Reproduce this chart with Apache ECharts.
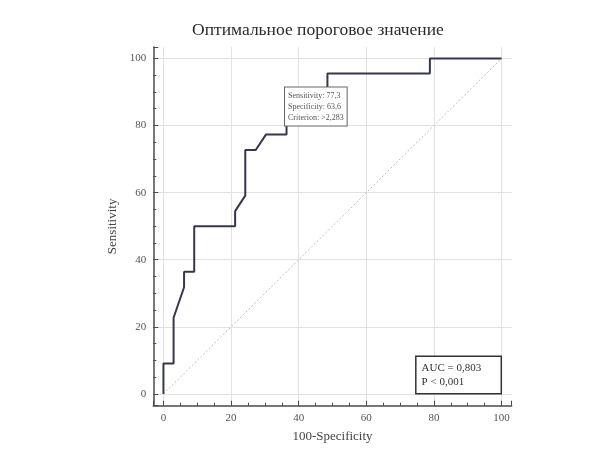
<!DOCTYPE html>
<html>
<head>
<meta charset="utf-8">
<script src="https://cdn.jsdelivr.net/npm/echarts@6/dist/echarts.min.js"></script>
<style>
	html, body { margin: 0; padding: 0; background: #fff; }
	#chart { width: 603px; height: 458px; }
</style>
</head>
<body>
<div id="chart"></div>
<script>
// ROC curve (100-Specificity, Sensitivity)
const rocX = [ 0, 0, 3.0, 3.0, 6.1, 6.1, 9.1, 9.1, 21.2, 21.2, 24.2, 24.2, 27.3, 30.3, 36.4, 36.4, 48.5, 48.5, 78.8, 78.8, 100 ];
const rocY = [ 0, 9.1, 9.1, 22.7, 31.8, 36.4, 36.4, 50, 50, 54.5, 59.1, 72.7, 72.7, 77.3, 77.3, 86.4, 86.4, 95.5, 95.5, 100, 100 ];
const diagonal = [ [ 0, 0 ], [ 100, 100 ] ];
const cutPoint = [ 36.4, 77.3 ];
const cutLines = [ 'Sensitivity: 77,3', 'Specificity: 63,6', 'Criterion: >2,283' ];
const statLines = [ 'AUC = 0,803', 'P < 0,001' ];

const serif = '"Liberation Serif", "DejaVu Serif", serif';
const chart = echarts.init( document.getElementById( 'chart' ), null, { renderer: 'canvas' } );

const axisCommon = {
	type: 'value',
	splitNumber: 5,
	nameLocation: 'middle',
	nameTextStyle: { fontFamily: serif, fontSize: 13, color: '#444' },
	axisLine: { show: true, onZero: false, lineStyle: { color: '#4a4a4a', width: 1.5 } },
	axisTick: { show: true, inside: true, length: 5, lineStyle: { color: '#4a4a4a' } },
	minorTick: { show: true, splitNumber: 4, length: 3, lineStyle: { color: '#4a4a4a' } },
	axisLabel: {
		fontFamily: serif,
		fontSize: 11,
		color: '#555',
		margin: 7,
		formatter: ( v ) => ( v % 20 === 0 ? String( v ) : '' )
	},
	splitLine: { show: true, showMinLine: false, showMaxLine: false, lineStyle: { color: '#e2e2e2', width: 1 } }
};

chart.setOption( {
	animation: false,
	title: {
		text: 'Оптимальное пороговое значение',
		left: 187,
		top: 16,
		textStyle: { fontFamily: serif, fontSize: 17.5, fontWeight: 'normal', color: '#2a2a2a' }
	},
	grid: { left: 153.3, right: 91.3, top: 47, bottom: 52.3, containLabel: false },
	xAxis: Object.assign( {}, axisCommon, {
		min: -3,
		max: 103,
		name: '100-Specificity',
		nameGap: 24
	} ),
	yAxis: Object.assign( {}, axisCommon, {
		min: -3.5,
		max: 103.4,
		name: 'Sensitivity',
		nameGap: 31
	} ),
	series: [
		{
			type: 'line',
			data: diagonal,
			symbol: 'none',
			silent: true,
			lineStyle: { color: '#bdbdbd', width: 1, type: [ 2, 2 ] },
			z: 1
		},
		{
			type: 'line',
			data: rocX.map( ( x, i ) => [ x, rocY[ i ] ] ),
			symbol: 'none',
			lineStyle: { color: '#34374f', width: 2 },
			z: 2,
			markPoint: {
				symbol: 'circle',
				symbolSize: 0,
				z: 10,
				data: [
					{
						coord: cutPoint,
						label: {
							show: true,
							position: [ -1.5, -47 ],
							formatter: cutLines.join( '\n' ),
							fontFamily: serif,
							fontSize: 8,
							lineHeight: 11,
							color: '#555',
							backgroundColor: '#fff',
							borderColor: '#666',
							borderWidth: 1,
							padding: [ 3, 3, 2, 3 ]
						}
					},
					{
						coord: [ 100, 0 ],
						label: {
							show: true,
							position: [ -85, -37 ],
							formatter: statLines.join( '\n' ),
							fontFamily: serif,
							fontSize: 11,
							lineHeight: 14,
							color: '#333',
							width: 74,
							backgroundColor: '#fff',
							borderColor: '#333',
							borderWidth: 1.5,
							padding: [ 4, 5, 4, 5 ]
						}
					}
				]
			}
		}
	]
} );
</script>
</body>
</html>
